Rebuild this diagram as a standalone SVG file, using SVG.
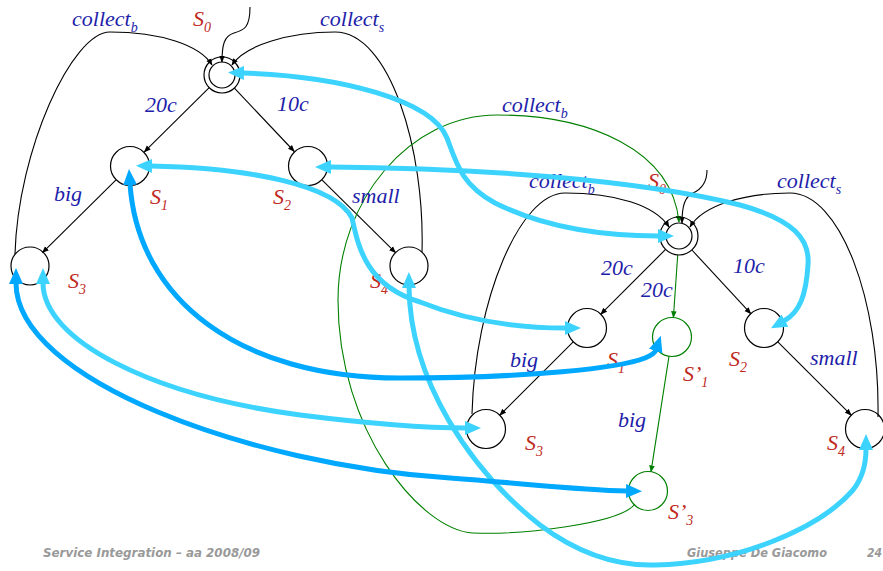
<svg xmlns="http://www.w3.org/2000/svg" width="883" height="571" viewBox="0 0 883 571">
<style>
.st{fill:none;stroke:#000;stroke-width:1.2}
.stg{fill:none;stroke:#008000;stroke-width:1.2}
.e{fill:none;stroke:#000;stroke-width:1.1;marker-end:url(#ab)}
.eg{fill:none;stroke:#008000;stroke-width:1.1;marker-end:url(#ag)}
.c1{fill:none;stroke:#3DD3FF;stroke-width:5;marker-start:url(#mc);marker-end:url(#mc)}
.c2{fill:none;stroke:#00A8FF;stroke-width:5;marker-start:url(#md);marker-end:url(#md)}
.t{font-family:'Liberation Serif','Times New Roman',Times,serif;font-style:italic;font-size:22px}
.lb{fill:#1E1EAA}
.ls{fill:#C02A1E}
.sub{font-size:14px}
.ft{font-family:'DejaVu Sans',Verdana,sans-serif;font-weight:bold;font-style:italic;font-size:12px;fill:#999}
</style>
<defs>
<marker id="ab" viewBox="0 0 10 10" refX="9" refY="5" markerWidth="7" markerHeight="7" orient="auto" markerUnits="userSpaceOnUse"><path d="M0,1 L10,5 L0,9 z" fill="#000"/></marker>
<marker id="ag" viewBox="0 0 10 10" refX="9" refY="5" markerWidth="7" markerHeight="7" orient="auto" markerUnits="userSpaceOnUse"><path d="M0,1 L10,5 L0,9 z" fill="#008000"/></marker>
<marker id="mc" viewBox="0 0 16 14" refX="1" refY="7" markerWidth="16" markerHeight="14" orient="auto-start-reverse" markerUnits="userSpaceOnUse"><path d="M0,0 L16,7 L0,14 z" fill="#3DD3FF"/></marker>
<marker id="md" viewBox="0 0 16 14" refX="1" refY="7" markerWidth="16" markerHeight="14" orient="auto-start-reverse" markerUnits="userSpaceOnUse"><path d="M0,0 L16,7 L0,14 z" fill="#00A8FF"/></marker>
</defs>

<g id="connectors">
<path class="e" d="M 250 7 C 250 28 244 30 234 33 C 224 36 222 45 222 62"/>
<path class="e" d="M 15 254 C 18 150 72 32 110 32 C 160 32 200 45 212 65"/>
<path class="e" d="M 422 252 C 425 150 390 32 335 32 C 290 32 245 45 232 65"/>
<path class="e" d="M 209.2 87.7 L 144.3 151.9"/>
<path class="e" d="M 234.4 88.1 L 294.3 151.5"/>
<path class="e" d="M 115.8 180.1 L 42.5 252.6"/>
<path class="e" d="M 322.2 180.1 L 395.5 252.6"/>
<path class="e" d="M 707 170 C 707 182 702 189 693 193 C 685 197 682 205 682 223"/>
<path class="e" d="M 472 414 C 475 300 520 193 565 193 C 615 193 655 205 669 227"/>
<path class="e" d="M 878 417 C 880 300 840 193 790 193 C 745 193 703 205 690 227"/>
<path class="e" d="M 665.6 249.4 L 600.8 314.2"/>
<path class="e" d="M 691.9 250 L 750.8 313.7"/>
<path class="e" d="M 573.2 341.8 L 499.8 415.2"/>
<path class="e" d="M 777.8 341.8 L 851.2 415.2"/>
<path class="eg" d="M 677.7 255 L 673.4 317.5"/>
<path class="eg" d="M 669 356.3 L 651 471.7"/>
<path class="eg" d="M 635 504 C 620 524 520 535 473 533 C 420 530 338 430 338 300 C 338 200 410 115 497 115 C 590 115 672 150 679 222"/>
<g font-family="Liberation Serif, serif" font-style="italic" font-size="22">
<text class="t lb" x="72" y="26">collect<tspan class="sub" dy="6">b</tspan></text>
<text class="t lb" x="320" y="26">collect<tspan class="sub" dy="6">s</tspan></text>
<text class="t lb" x="145" y="112">20c</text>
<text class="t lb" x="277" y="111">10c</text>
<text class="t lb" x="54" y="201">big</text>
<text class="t lb" x="352" y="203">small</text>
<text class="t lb" x="502" y="112">collect<tspan class="sub" dy="6">b</tspan></text>
<text class="t lb" x="529" y="188">collect<tspan class="sub" dy="6">b</tspan></text>
<text class="t lb" x="777" y="188">collect<tspan class="sub" dy="6">s</tspan></text>
<text class="t lb" x="601" y="275">20c</text>
<text class="t lb" x="641" y="297">20c</text>
<text class="t lb" x="733" y="273">10c</text>
<text class="t lb" x="510" y="367">big</text>
<text class="t lb" x="810" y="365">small</text>
<text class="t lb" x="618" y="427">big</text>
</g>
</g>

<g id="L-S0"><circle class="st" cx="222" cy="75" r="18"/><circle class="st" cx="222" cy="75" r="13"/><text class="t ls" x="193" y="26">S<tspan class="sub" dy="6">0</tspan></text></g>
<g id="L-S1"><circle class="st" cx="130" cy="166" r="19.5"/><text class="t ls" x="150" y="204">S<tspan class="sub" dy="6">1</tspan></text></g>
<g id="L-S2"><circle class="st" cx="308" cy="166" r="19.5"/><text class="t ls" x="273" y="204">S<tspan class="sub" dy="6">2</tspan></text></g>
<g id="L-S3"><circle class="st" cx="30" cy="266" r="19"/><text class="t ls" x="68" y="288">S<tspan class="sub" dy="6">3</tspan></text></g>
<g id="L-S4"><circle class="st" cx="409" cy="266" r="19"/><text class="t ls" x="370" y="288">S<tspan class="sub" dy="6">4</tspan></text></g>

<g id="R-S0"><circle class="st" cx="679" cy="236" r="19"/><circle class="st" cx="679" cy="236" r="13"/><text class="t ls" x="648" y="188">S<tspan class="sub" dy="6">0</tspan></text></g>
<g id="R-S1"><circle class="st" cx="587" cy="328" r="19.5"/><text class="t ls" x="607" y="367">S<tspan class="sub" dy="6">1</tspan></text></g>
<g id="R-S2"><circle class="st" cx="764" cy="328" r="19.5"/><text class="t ls" x="729" y="366">S<tspan class="sub" dy="6">2</tspan></text></g>
<g id="R-S3"><circle class="st" cx="486" cy="429" r="19.5"/><text class="t ls" x="525" y="450">S<tspan class="sub" dy="6">3</tspan></text></g>
<g id="R-S4"><circle class="st" cx="865" cy="429" r="19.5"/><text class="t ls" x="827" y="450">S<tspan class="sub" dy="6">4</tspan></text></g>
<g id="R-S1p"><circle class="stg" cx="672" cy="337" r="19.5"/><text class="t ls" x="683" y="381">S’<tspan class="sub" dy="6">1</tspan></text></g>
<g id="R-S3p"><circle class="stg" cx="648" cy="491" r="19.5"/><text class="t ls" x="668" y="519">S’<tspan class="sub" dy="6">3</tspan></text></g>

<g id="footer">
<text class="ft" x="43" y="557" textLength="217" lengthAdjust="spacingAndGlyphs">Service Integration – aa 2008/09</text>
<text class="ft" x="687" y="557" textLength="140" lengthAdjust="spacingAndGlyphs">Giuseppe De Giacomo</text>
<text class="ft" x="867" y="557" textLength="15" lengthAdjust="spacingAndGlyphs">24</text>
</g>

<g id="mappings">
<path class="c1" d="M 243 73 C 340 76 432 100 447 138 C 457 165 462 185 495 203 C 545 228 605 236 659 236"/>
<path class="c1" d="M 330 167 C 480 168 640 180 740 205 C 795 220 810 240 808 265 C 806 295 800 312 784 321"/>
<path class="c1" d="M 151 166 C 250 168 335 185 352 218 C 358 245 365 285 420 302 C 470 322 520 328 566 328"/>
<path class="c1" d="M 43 283 C 43 340 150 395 300 415 C 380 425 430 428 466 428"/>
<path class="c1" d="M 409 287 C 410 380 470 470 540 525 C 580 555 620 566 655 565 C 740 563 820 528 853 490 C 864 476 866 462 866 449"/>
<path class="c2" d="M 130 184 C 138 300 240 378 400 378 C 530 378 620 368 645 358 C 652 355 655 353 656 350"/>
<path class="c2" d="M 16 283 C 16 380 250 465 450 478 C 530 484 580 490 627 491"/>
</g>
</svg>
